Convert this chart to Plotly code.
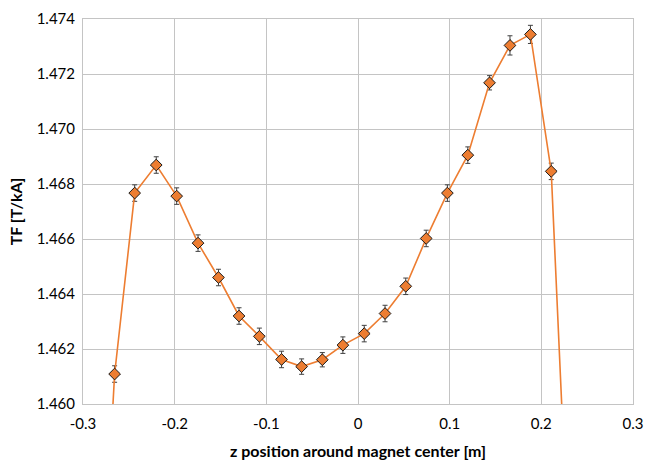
import plotly.graph_objects as go

# Transfer function measured along the magnet axis
z_pos = [-0.2881, -0.2655, -0.2436, -0.2201, -0.1978, -0.1745, -0.1522, -0.1298,
         -0.1076, -0.0834, -0.0615, -0.0389, -0.0165, 0.0068, 0.0295, 0.0521,
         0.0744, 0.0975, 0.1198, 0.1435, 0.1658, 0.1881, 0.2108, 0.2334]
tf = [1.4474, 1.46109, 1.46767, 1.46869, 1.46756, 1.46585, 1.46460, 1.46320,
      1.46246, 1.46162, 1.46136, 1.46161, 1.46214, 1.46256, 1.46329, 1.46428,
      1.46602, 1.46767, 1.46905, 1.47168, 1.47304, 1.47344, 1.46846, 1.4517]
tf_err = [0.0003, 0.0003, 0.0003, 0.0003, 0.0003, 0.0003, 0.0003, 0.0003,
          0.0003, 0.0003, 0.00028, 0.00026, 0.0003, 0.0003, 0.0003, 0.0003,
          0.0003, 0.0003, 0.0003, 0.00026, 0.00035, 0.00033, 0.0003, 0.0003]

x_ticks = [-0.3, -0.2, -0.1, 0.0, 0.1, 0.2, 0.3]
x_tick_text = ["-0.3", "-0.2", "-0.1", "0", "0.1", "0.2", "0.3"]
y_ticks = [1.460, 1.462, 1.464, 1.466, 1.468, 1.470, 1.472, 1.474]

FONT = "Lato, 'Open Sans', sans-serif"
GRID = "#C4C4C4"

fig = go.Figure()
fig.add_trace(go.Scatter(
    x=z_pos, y=tf,
    mode="lines+markers",
    line=dict(color="#ED7D31", width=1.6),
    marker=dict(symbol="diamond", size=9, color="#ED7D31",
                line=dict(color="#1a1a1a", width=1)),
    error_y=dict(type="data", array=tf_err, color="#404040",
                 thickness=1, width=2.5),
    showlegend=False,
))

fig.update_layout(
    width=652, height=468,
    margin=dict(l=83, r=13, t=9, b=64),
    paper_bgcolor="white", plot_bgcolor="white",
    font=dict(family=FONT, size=15, color="#000000"),
    xaxis=dict(
        range=[-0.3, 0.3], tickvals=x_ticks, ticktext=x_tick_text,
        showgrid=True, gridcolor=GRID, gridwidth=1, zeroline=False,
        showline=True, linecolor=GRID, linewidth=1, mirror=True,
        ticks="", ticklen=0, ticklabelstandoff=6,
        title=dict(text="<b>z position around magnet center [m]</b>",
                   font=dict(family=FONT, size=16), standoff=14),
    ),
    yaxis=dict(
        range=[1.460, 1.474], tickvals=y_ticks, tickformat=".3f",
        showgrid=True, gridcolor=GRID, gridwidth=1, zeroline=False,
        showline=True, linecolor=GRID, linewidth=1, mirror=True,
        ticks="", ticklen=0, ticklabelstandoff=4,
        title=dict(text="<b>TF [T/kA]</b>",
                   font=dict(family=FONT, size=16), standoff=10),
    ),
)

fig.write_html("out.html")
